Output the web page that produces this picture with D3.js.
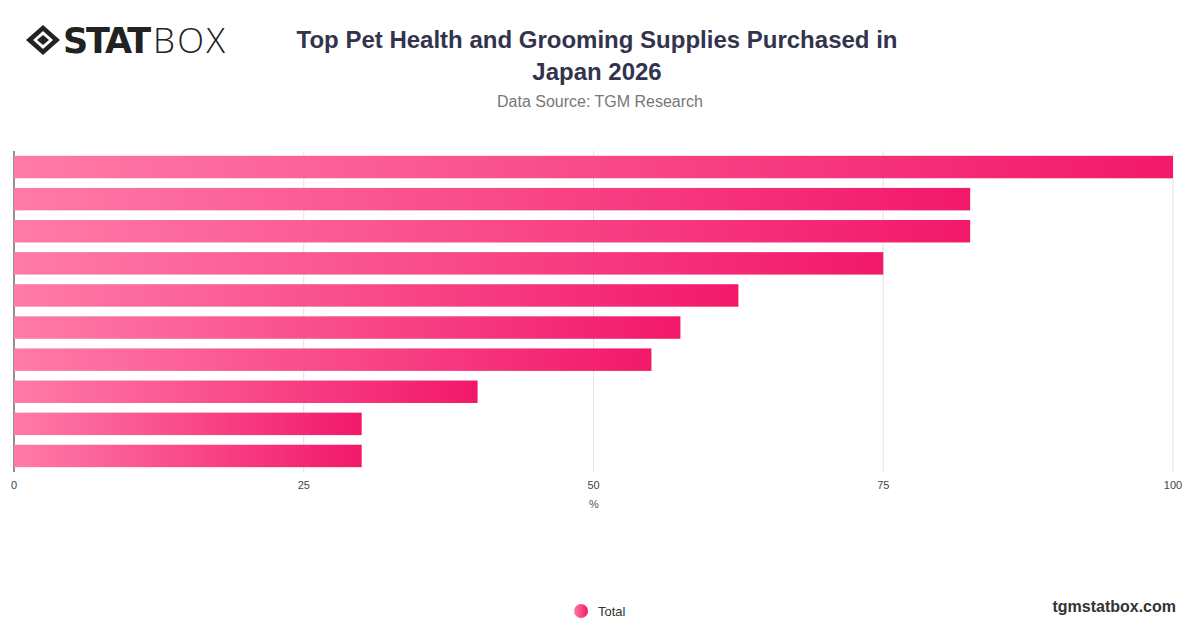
<!DOCTYPE html>
<html><head><meta charset="utf-8">
<script src="https://cdn.jsdelivr.net/npm/d3@7"></script>
<style>body{margin:0;background:#fff;font-family:"Liberation Sans",Arial,sans-serif}</style>
</head><body><svg id="c" width="1200" height="628"></svg>
<script>
const categories=["Item 1","Item 2","Item 3","Item 4","Item 5","Item 6","Item 7","Item 8","Item 9","Item 10"];
const values=[100,82.5,82.5,75,62.5,57.5,55,40,30,30];
const xTicks=[0,25,50,75,100];
const svg=d3.select("#c");
const m={l:14,r:1173,t:151,b:472};
const x=d3.scaleLinear().domain([0,100]).range([m.l,m.r]);
const y=d3.scaleBand().domain(categories).range([m.t,m.b]).paddingInner(0.3).paddingOuter(0.15);
const defs=svg.append("defs");
const g=defs.append("linearGradient").attr("id","gr").attr("x1",0).attr("x2",1);
g.append("stop").attr("offset",0).attr("stop-color","#ff7ba8");
g.append("stop").attr("offset",1).attr("stop-color","#f2186a");
svg.selectAll(".grid").data(xTicks).join("line").attr("x1",d=>x(d)).attr("x2",d=>x(d)).attr("y1",m.t).attr("y2",m.b).attr("stroke","#e3e3e3");
svg.append("line").attr("x1",m.l).attr("x2",m.l).attr("y1",m.t).attr("y2",m.b).attr("stroke","#333");
svg.selectAll(".bar").data(values).join("rect").attr("x",x(0)).attr("y",(d,i)=>y(categories[i])).attr("width",d=>x(d)-x(0)).attr("height",y.bandwidth()).attr("fill","url(#gr)");
svg.selectAll(".xl").data(xTicks).join("text").attr("x",d=>x(d)).attr("y",489).attr("text-anchor","middle").attr("font-size",11).attr("fill","#444").text(d=>d);
svg.append("text").attr("x",594).attr("y",508).attr("text-anchor","middle").attr("font-size",11).attr("fill","#555").text("%");
svg.append("text").attr("x",597).attr("y",48).attr("text-anchor","middle").attr("font-size",24).attr("font-weight","bold").attr("fill","#33334d").text("Top Pet Health and Grooming Supplies Purchased in");
svg.append("text").attr("x",597).attr("y",80).attr("text-anchor","middle").attr("font-size",24).attr("font-weight","bold").attr("fill","#33334d").text("Japan 2026");
svg.append("text").attr("x",600).attr("y",107).attr("text-anchor","middle").attr("font-size",16).attr("fill","#777").text("Data Source: TGM Research");
const lg=svg.append("g").attr("transform","translate(43,40)");
lg.append("path").attr("d","M-17,0 L0,-15 L17,0 L0,15 Z").attr("fill","#222");
lg.append("path").attr("d","M-10,0 L0,-9 L10,0 L0,9 Z").attr("fill","#fff");
lg.append("path").attr("d","M-6,0 L0,-5 L6,0 L0,5 Z").attr("fill","#222");
svg.append("text").attr("x",63).attr("y",53).attr("font-size",35).attr("font-weight",900).attr("font-family","'DejaVu Sans'").attr("textLength",88).attr("fill","#222").text("STAT");
svg.append("text").attr("x",153).attr("y",53).attr("font-size",35).attr("font-weight",300).attr("font-family","'Open Sans'").attr("textLength",72).attr("fill","#222").text("BOX");
svg.append("circle").attr("cx",581).attr("cy",611).attr("r",7).attr("fill","url(#gr)");
svg.append("text").attr("x",598).attr("y",616).attr("font-size",13).attr("fill","#333").text("Total");
svg.append("text").attr("x",1176).attr("y",612).attr("text-anchor","end").attr("font-size",16).attr("font-weight","bold").attr("fill","#333").text("tgmstatbox.com");
</script></body></html>
